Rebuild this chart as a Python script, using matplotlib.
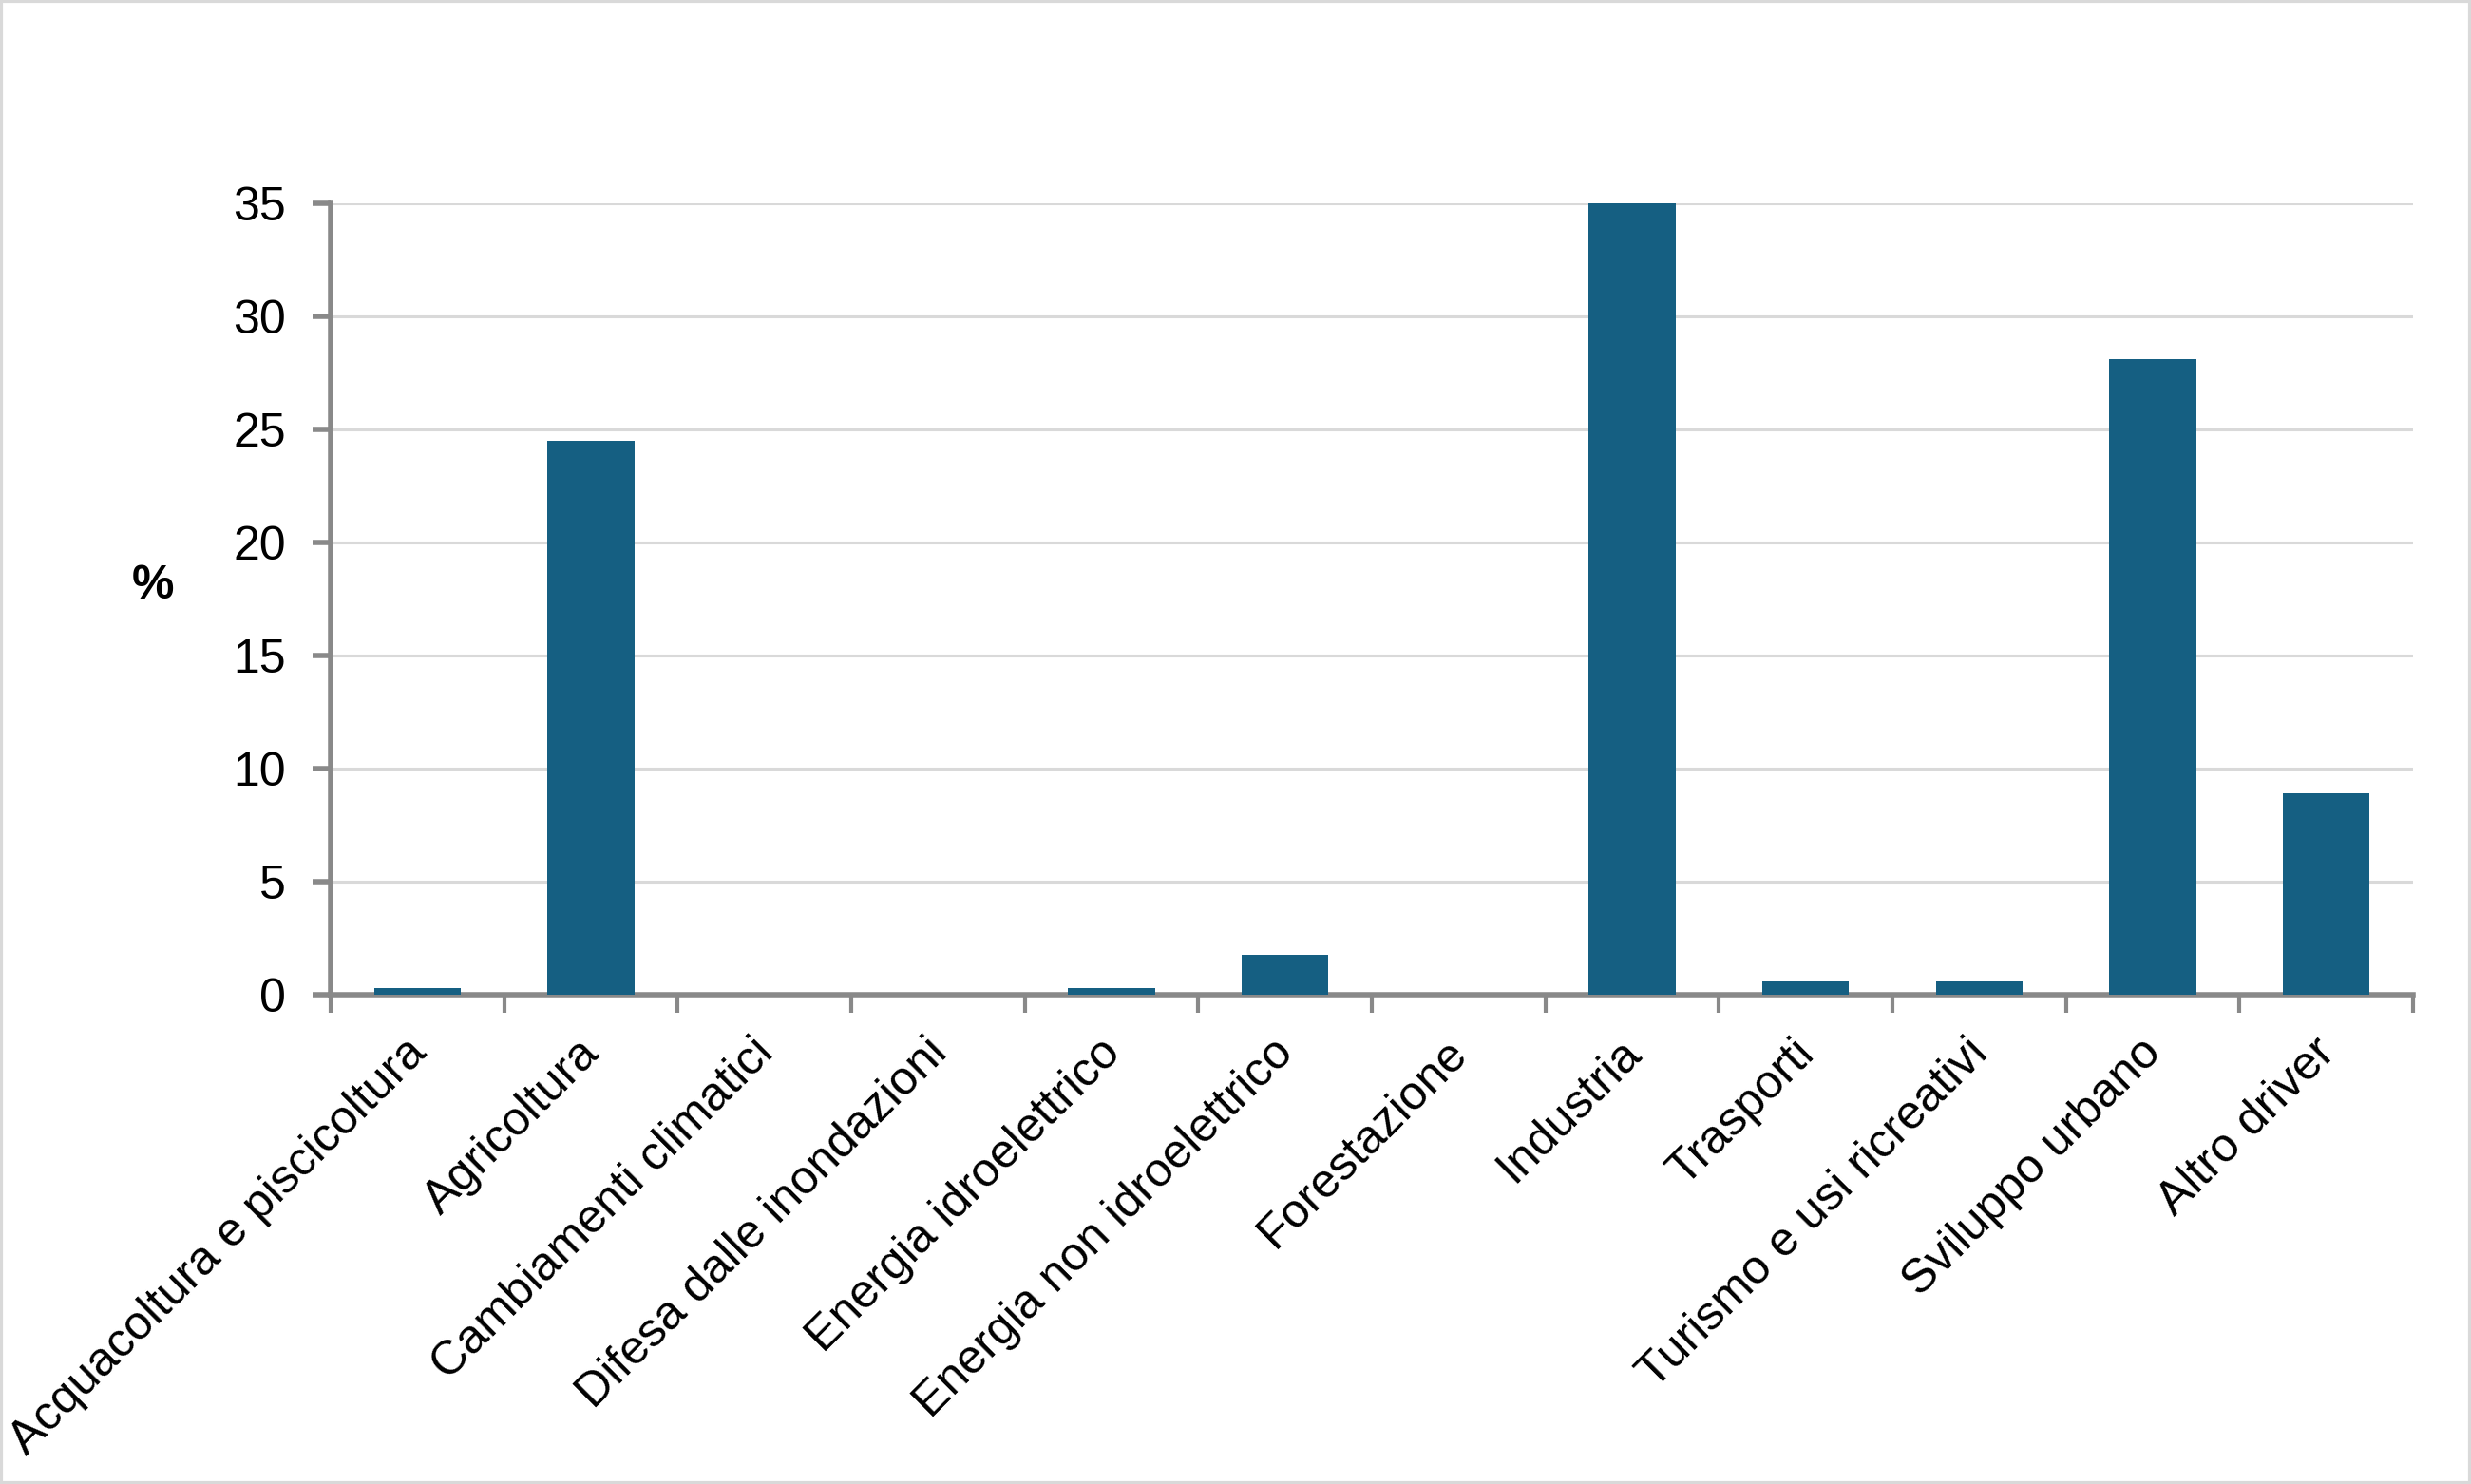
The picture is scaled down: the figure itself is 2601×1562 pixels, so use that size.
import matplotlib
matplotlib.use("Agg")
import matplotlib.pyplot as plt
from matplotlib.patches import Rectangle
from matplotlib.transforms import ScaledTranslation

plt.rcParams['font.family'] = ['Liberation Sans', 'DejaVu Sans']

categories = ["Acquacoltura e piscicoltura", "Agricoltura", "Cambiamenti climatici",
              "Difesa dalle inondazioni", "Energia idroelettrico", "Energia non idroelettrico",
              "Forestazione", "Industria", "Trasporti", "Turismo e usi ricreativi",
              "Sviluppo urbano", "Altro driver"]
values = [0.3, 24.5, 0.0, 0.0, 0.3, 1.75, 0.0, 35.0, 0.6, 0.6, 28.1, 8.9]
yticks = [0, 5, 10, 15, 20, 25, 30, 35]

bar_color = "#155f82"
axis_color = "#898989"
grid_color = "#d9d9d9"

fig = plt.figure(figsize=(26.01, 15.62), dpi=100)
ax = fig.add_axes([348/2601, 1 - 1047/1562, (2540-348)/2601, (1047-214)/1562])

x = list(range(len(categories)))
ax.bar(x, values, width=0.5, color=bar_color, zorder=3)

ax.set_xlim(-0.5, len(categories) - 0.5)
ax.set_ylim(0, 35)
ax.set_yticks(yticks)
ax.set_yticklabels([str(v) for v in yticks], fontsize=36)
ax.yaxis.grid(True, color=grid_color, linewidth=2.2, zorder=0)
ax.set_axisbelow(True)

for s in ['top', 'right']:
    ax.spines[s].set_visible(False)
for s in ['left', 'bottom']:
    ax.spines[s].set_color(axis_color)
    ax.spines[s].set_linewidth(4)

ax.tick_params(axis='y', direction='out', length=14, width=4, color=axis_color, pad=20)

# category boundaries as ticks
ax.set_xticks([i - 0.5 for i in range(len(categories) + 1)], minor=True)
ax.tick_params(axis='x', which='minor', direction='out', length=14, width=3, color=axis_color)
ax.set_xticks(x)
ax.set_xticklabels(categories, fontsize=36, rotation=45, ha='right', va='center',
                   rotation_mode='anchor')
ax.tick_params(axis='x', which='major', length=0, pad=39)
offset = ScaledTranslation(2/100, 0, fig.dpi_scale_trans)
for lbl in ax.get_xticklabels():
    lbl.set_transform(lbl.get_transform() + offset)

fig.text(161/2601, 1 - 617/1562, "%", fontsize=36, fontweight='bold',
         ha='center', va='center')

fig.patches.append(Rectangle((0.0005, 0.0008), 0.999, 0.9984, transform=fig.transFigure,
                             fill=False, edgecolor="#d9d9d9", linewidth=3))

fig.savefig("out.png", dpi=100)
